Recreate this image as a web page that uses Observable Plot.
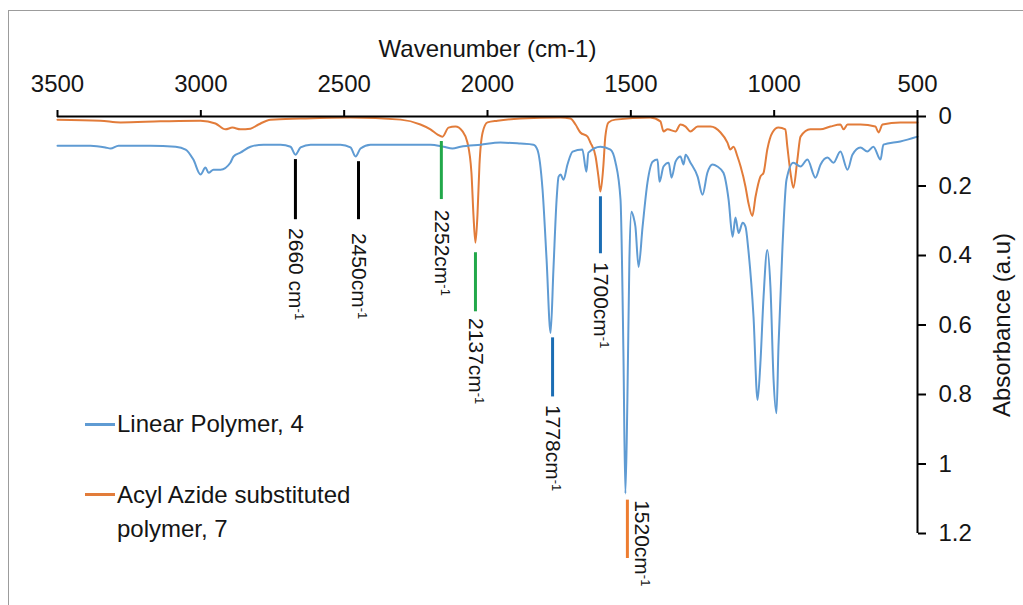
<!DOCTYPE html>
<html>
<head>
<meta charset="utf-8">
<script src="https://cdn.jsdelivr.net/npm/d3@7"></script>
<script src="https://cdn.jsdelivr.net/npm/@observablehq/plot@0.6"></script>
<style>
  html, body { margin: 0; padding: 0; background: #fff; }
  #wrap { position: relative; width: 1023px; height: 605px; overflow: hidden;
          font-family: "Liberation Sans", Arial, Helvetica, sans-serif; color: #151515; }
  #frame { position: absolute; left: 8px; top: 10px; right: -10px; bottom: -10px;
           border-top: 1.5px solid #9c9c9c; border-left: 1.5px solid #9c9c9c; pointer-events: none; }
  .lg { position: absolute; font-size: 24px; line-height: 34px; width: 250px; color: #151515; }
  .sw { position: absolute; width: 30px; height: 2.5px; }
</style>
</head>
<body>
<div id="wrap">
  <div id="chart"></div>
  <div id="frame"></div>
</div>
<script>
// ---- Data ----
const seriesNames = ["Linear Polymer, 4", "Acyl Azide substituted polymer, 7"];
const seriesColors = ["#5f9bd3", "#e27c3a"];

// Linear Polymer, 4 (blue): wavenumber (cm-1) and absorbance (a.u)
const blueWn = [3500,3385,3333,3315,3287,3176,3088,3053,3026,3001,2984,2973,2956,2931,2897,2886,2862,2827,2781,2722,
  2687,2670,2652,2617,2513,2478,2460,2443,2408,2303,2199,2153,2122,2094,2024,1955,1885,1840,1826,1808,
  1794,1780,1770,1759,1752,1745,1735,1721,1703,1669,1655,1648,1606,1571,1554,1536,1526,1519,1512,1505,
  1498,1491,1484,1473,1459,1442,1424,1407,1400,1386,1368,1358,1344,1327,1316,1309,1292,1267,1250,1233,
  1215,1198,1177,1159,1145,1135,1124,1110,1100,1090,1072,1058,1048,1037,1024,1013,1002,992,985,971,
  957,933,908,884,856,838,814,793,769,744,727,699,675,654,629,619,560,500];
const blueAbs = [0.084,0.084,0.089,0.092,0.084,0.084,0.087,0.095,0.124,0.167,0.147,0.162,0.153,0.153,0.133,0.115,0.104,0.087,0.081,0.081,
  0.087,0.110,0.089,0.081,0.081,0.089,0.115,0.092,0.081,0.081,0.081,0.087,0.092,0.087,0.081,0.075,0.078,0.081,0.095,0.21,
  0.41,0.623,0.44,0.24,0.173,0.167,0.182,0.138,0.101,0.095,0.159,0.104,0.087,0.095,0.130,0.239,0.672,1.085,0.816,0.412,
  0.274,0.288,0.317,0.433,0.317,0.190,0.130,0.124,0.188,0.144,0.133,0.176,0.130,0.115,0.138,0.110,0.133,0.173,0.225,0.162,
  0.138,0.144,0.162,0.239,0.346,0.291,0.335,0.306,0.317,0.384,0.577,0.816,0.709,0.519,0.384,0.490,0.759,0.854,0.663,0.375,
  0.182,0.133,0.144,0.124,0.176,0.138,0.118,0.133,0.101,0.153,0.110,0.089,0.101,0.087,0.124,0.081,0.072,0.058];

// Acyl Azide substituted polymer, 7 (orange)
const orangeWn = [3500,3350,3280,3141,3001,2949,2914,2890,2862,2827,2799,2757,2652,2478,2303,2234,2199,2174,2157,2136,
  2112,2087,2070,2056,2049,2042,2035,2028,2017,2000,1965,1885,1746,1711,1693,1676,1651,1641,1623,1613,
  1606,1596,1589,1578,1554,1432,1397,1386,1372,1344,1327,1309,1292,1267,1222,1187,1163,1153,1142,1128,
  1117,1100,1090,1076,1065,1048,1037,1024,1006,985,961,954,943,933,919,908,874,839,804,769,
  758,744,699,647,636,622,560,500];
const orangeAbs = [0.009,0.012,0.017,0.014,0.012,0.020,0.037,0.032,0.037,0.035,0.023,0.009,0.006,0.003,0.009,0.023,0.037,0.052,0.058,0.032,
  0.029,0.043,0.075,0.162,0.283,0.363,0.283,0.138,0.046,0.017,0.012,0.006,0.003,0.006,0.023,0.046,0.058,0.075,0.115,0.173,
  0.216,0.144,0.058,0.017,0.009,0.003,0.014,0.043,0.037,0.043,0.023,0.029,0.043,0.029,0.029,0.046,0.075,0.095,0.087,0.115,
  0.144,0.202,0.248,0.286,0.231,0.173,0.162,0.095,0.046,0.032,0.037,0.087,0.162,0.205,0.124,0.058,0.037,0.037,0.029,0.023,
  0.037,0.023,0.023,0.029,0.046,0.023,0.017,0.017];

// Peak annotations
const annoLabels = ["2660 cm-1", "2450cm-1", "2252cm-1", "2137cm-1", "1778cm-1", "1700cm-1", "1520cm-1"];
const annoWn     = [2670, 2450, 2161, 2042, 1773, 1606, 1512];   // where the marker is drawn
const annoTop    = [0.124, 0.130, 0.072, 0.392, 0.637, 0.231, 1.104];
const annoBottom = [0.297, 0.297, 0.239, 0.562, 0.807, 0.395, 1.272];
const annoTextWn = [2670, 2450, 2161, 2042, 1773, 1606, 1462];
const annoTextY  = [0.321, 0.335, 0.268, 0.580, 0.830, 0.419, 1.104];
const annoColors = ["#000000", "#000000", "#22a84a", "#22a84a", "#1b6db4", "#1b6db4", "#ee7d30"];

// Axes
const xTicks = [3500, 3000, 2500, 2000, 1500, 1000, 500];
const yTicks = [0, 0.2, 0.4, 0.6, 0.8, 1, 1.2];
const xTitle = "Wavenumber (cm-1)";
const yTitle = "Absorbance (a.u)";

// ---- Build tables ----
const blue = blueWn.map((w, i) => ({w, a: blueAbs[i]}));
const orange = orangeWn.map((w, i) => ({w, a: orangeAbs[i]}));
const annos = annoLabels.map((label, i) => ({
  label, w: annoWn[i], top: annoTop[i], bottom: annoBottom[i],
  tw: annoTextWn[i], ty: annoTextY[i], color: annoColors[i]
}));

const font = '"Liberation Sans", Arial, Helvetica, sans-serif';

const chart = Plot.plot({
  width: 1023,
  height: 605,
  marginLeft: 57,
  marginRight: 106,
  marginTop: 116,
  marginBottom: 72,
  style: {fontFamily: font, fontSize: "24px", color: "#151515", background: "transparent", overflow: "visible"},
  x: {domain: [3500, 500]},
  y: {domain: [0, 1.2], reverse: true},
  color: {type: "identity"},
  marks: [
    Plot.line(orange, {x: "w", y: "a", stroke: seriesColors[1], strokeWidth: 2, curve: "monotone-x"}),
    Plot.line(blue, {x: "w", y: "a", stroke: seriesColors[0], strokeWidth: 2, curve: "monotone-x"}),
    Plot.ruleY([0], {stroke: "#000", strokeWidth: 2}),
    Plot.ruleX([500], {stroke: "#000", strokeWidth: 2}),
    Plot.axisX({anchor: "top", ticks: xTicks, tickSize: 7, tickPadding: 18, tickFormat: d => String(d),
                label: null, fontSize: 24, strokeWidth: 2, stroke: "#000"}),
    Plot.axisY({anchor: "right", ticks: yTicks, tickSize: 8, tickPadding: 13, textAnchor: "start",
                tickFormat: d => String(+d.toFixed(1)),
                label: null, fontSize: 24, strokeWidth: 2, stroke: "#000"}),
    Plot.text([xTitle], {frameAnchor: "top", dy: -77, fontSize: 24, fill: "#151515"}),
    Plot.text([yTitle], {frameAnchor: "right", textAnchor: "middle", dx: 85, rotate: -90, fontSize: 24, fill: "#151515"}),
    Plot.ruleX(annos, {x: "w", y1: "top", y2: "bottom", stroke: "color", strokeWidth: 3}),
    Plot.text(annos, {x: "tw", y: "ty", text: "label", rotate: 90, textAnchor: "start", fontSize: 21, fill: "#151515"})
  ]
});

// superscript the "-1" of the peak labels
chart.querySelectorAll("text").forEach(t => {
  const s = t.textContent;
  if (/cm-1$/.test(s) && !s.startsWith("Wavenumber")) {
    t.textContent = s.slice(0, -2);
    const ts = document.createElementNS("http://www.w3.org/2000/svg", "tspan");
    ts.setAttribute("dy", "-0.5em");
    ts.style.fontSize = "13px";
    ts.textContent = "-1";
    t.appendChild(ts);
  }
});

document.getElementById("chart").appendChild(chart);

// legend (inside the plot area, left)
const wrap = document.getElementById("wrap");
const legendRows = [{top: 407, swTop: 423}, {top: 478, swTop: 493}];
seriesNames.forEach((name, i) => {
  const sw = document.createElement("div");
  sw.className = "sw";
  sw.style.left = "85px";
  sw.style.top = legendRows[i].swTop + "px";
  sw.style.background = seriesColors[i];
  wrap.appendChild(sw);
  const lg = document.createElement("div");
  lg.className = "lg";
  lg.style.left = "117px";
  lg.style.top = legendRows[i].top + "px";
  lg.textContent = name;
  wrap.appendChild(lg);
});
</script>
</body>
</html>
